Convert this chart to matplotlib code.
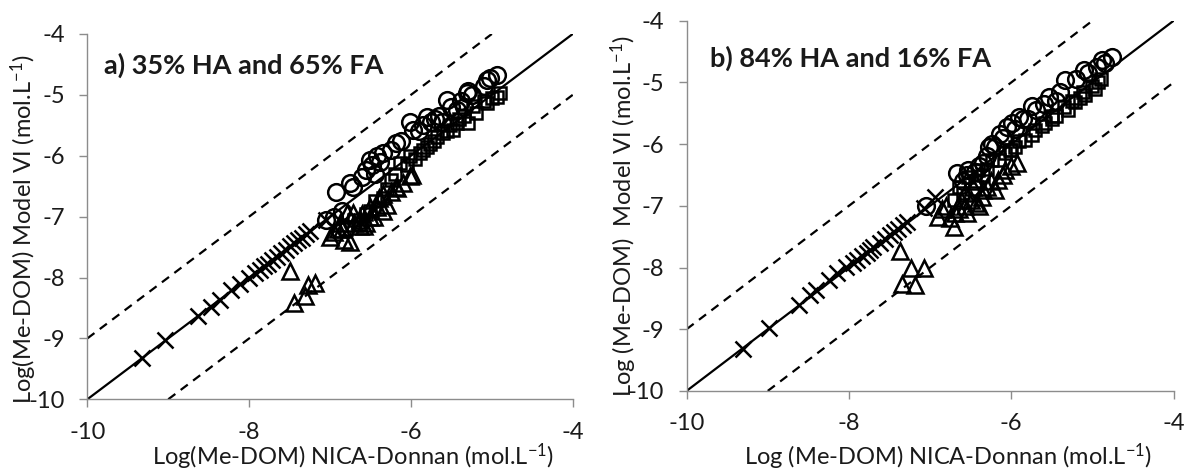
import matplotlib
matplotlib.use("Agg")
import matplotlib.pyplot as plt

plt.rcParams["font.family"] = ["Lato", "DejaVu Sans"]
plt.rcParams["mathtext.fontset"] = "custom"
plt.rcParams["mathtext.rm"] = "Lato"
plt.rcParams["mathtext.it"] = "Lato:italic"
plt.rcParams["mathtext.bf"] = "Lato:bold"
plt.rcParams["axes.unicode_minus"] = False

# panel a) 35% HA and 65% FA
cross_x_a = [-9.33, -9.04, -8.63, -8.47, -8.36, -8.22, -8.11, -8.0, -7.93, -7.87, -7.82, -7.77,
             -7.72, -7.66, -7.6, -7.55, -7.49, -7.44, -7.39, -7.35, -7.3, -7.25, -7.05]
cross_y_a = [-9.32, -9.02, -8.63, -8.48, -8.37, -8.21, -8.11, -8.0, -7.92, -7.87, -7.81, -7.77,
             -7.71, -7.66, -7.6, -7.54, -7.49, -7.44, -7.38, -7.35, -7.29, -7.24, -7.05]
tri_x_a = [-7.49, -7.27, -7.19, -7.31, -7.45, -7.0, -6.83, -6.75, -6.88, -6.79, -6.63, -6.5, -6.42,
           -6.30, -6.34, -6.18, -6.01, -6.63, -6.71, -6.46, -6.51, -6.17, -5.99, -6.55, -6.9,
           -6.95, -6.85, -6.7, -6.6, -6.4, -6.25, -6.1, -6.35, -6.58]
tri_y_a = [-7.90, -8.12, -8.09, -8.31, -8.42, -7.33, -7.38, -7.41, -7.11, -6.94, -7.05, -7.0, -6.84,
           -6.81, -6.62, -6.51, -6.34, -7.16, -6.94, -7.0, -6.84, -6.53, -6.32, -7.1, -7.2,
           -7.25, -7.2, -7.1, -6.95, -6.7, -6.6, -6.45, -6.9, -7.15]
circ_x_a = [-7.05, -6.92, -6.75, -6.71, -6.55, -6.51, -6.42, -6.34, -6.18, -6.01, -5.97, -5.80,
            -5.70, -5.56, -5.43, -5.31, -5.29, -5.06, -5.02, -4.94, -6.45, -5.9, -5.62, -5.35,
            -6.6, -6.48, -6.38, -6.25, -6.12, -5.85, -5.75, -5.65, -5.5, -5.38, -5.25, -5.1,
            -6.85, -6.95]
circ_y_a = [-7.05, -6.59, -6.45, -6.51, -6.23, -6.07, -6.01, -5.96, -5.79, -5.44, -5.58, -5.36,
            -5.40, -5.08, -5.25, -4.97, -4.93, -4.76, -4.72, -4.67, -6.3, -5.6, -5.45, -5.2,
            -6.35, -6.15, -6.1, -5.9, -5.75, -5.5, -5.45, -5.35, -5.2, -5.1, -5.0, -4.85,
            -6.9, -7.0]
sq_x_a = [-6.63, -6.5, -6.35, -6.25, -6.13, -6.01, -5.89, -5.76, -5.68, -5.60, -5.48, -5.43,
          -5.29, -5.23, -5.19, -5.06, -4.94, -4.90, -5.95, -5.55, -5.35, -6.05, -5.8,
          -6.8, -6.7, -6.55, -6.45, -6.3, -6.2, -5.85, -5.72, -5.52, -5.4, -5.1, -5.0]
sq_y_a = [-7.12, -6.9, -6.7, -6.4, -6.12, -6.01, -5.96, -5.80, -5.69, -5.63, -5.58, -5.47,
          -5.47, -5.19, -5.30, -5.14, -5.03, -4.97, -6.05, -5.6, -5.35, -6.15, -5.85,
          -7.2, -7.05, -6.95, -6.75, -6.55, -6.3, -5.9, -5.75, -5.5, -5.4, -5.1, -5.05]

# panel b) 84% HA and 16% FA
cross_x_b = [-9.3, -8.99, -8.62, -8.48, -8.40, -8.25, -8.15, -8.03, -7.95, -7.90, -7.84, -7.78,
             -7.74, -7.70, -7.62, -7.55, -7.49, -7.44, -7.39, -7.33, -7.28, -7.07, -6.94]
cross_y_b = [-9.32, -8.98, -8.61, -8.45, -8.36, -8.20, -8.09, -7.99, -7.93, -7.88, -7.82, -7.77,
             -7.72, -7.66, -7.6, -7.54, -7.47, -7.42, -7.38, -7.31, -7.27, -7.03, -6.85]
tri_x_b = [-7.37, -7.23, -7.08, -7.35, -7.19, -6.90, -6.71, -6.69, -6.57, -6.40, -6.36, -6.20,
           -6.16, -6.08, -5.93, -6.57, -6.47, -6.30, -6.55, -6.43, -6.8, -6.62,
           -6.75, -6.65, -6.5, -6.35, -6.25, -6.1, -6.0, -6.85, -6.45]
tri_y_b = [-7.74, -8.01, -8.01, -8.26, -8.28, -7.18, -7.34, -7.12, -7.01, -7.01, -6.85, -6.74,
           -6.58, -6.42, -6.31, -6.80, -6.70, -6.70, -7.12, -6.96, -7.0, -6.9,
           -7.2, -7.05, -6.9, -6.75, -6.6, -6.5, -6.35, -7.05, -6.6]
circ_x_b = [-7.05, -6.67, -6.53, -6.45, -6.28, -6.24, -6.14, -6.05, -5.99, -5.91, -5.75, -5.54,
            -5.34, -5.11, -5.05, -4.88, -4.84, -4.76, -6.6, -6.35, -5.8, -5.45,
            -6.55, -6.4, -6.2, -6.1, -5.95, -5.85, -5.7, -5.6, -5.4, -5.2, -4.95, -6.3]
circ_y_b = [-7.0, -6.47, -6.42, -6.45, -6.04, -5.99, -5.83, -5.72, -5.66, -5.56, -5.39, -5.23,
            -4.96, -4.80, -4.85, -4.64, -4.69, -4.58, -6.6, -6.3, -5.6, -5.3,
            -6.5, -6.35, -6.05, -5.9, -5.75, -5.6, -5.45, -5.35, -5.15, -4.95, -4.75, -6.2]
sq_x_b = [-6.65, -6.53, -6.41, -6.24, -6.08, -5.95, -5.83, -5.71, -5.58, -5.45, -5.30, -5.21,
          -5.09, -4.97, -4.93, -6.7, -6.35, -6.0, -5.5, -5.15,
          -6.6, -6.45, -6.3, -6.15, -6.02, -5.9, -5.75, -5.62, -5.5, -5.35, -5.25, -5.0, -4.9, -5.12]
sq_y_b = [-6.69, -6.53, -6.42, -6.26, -6.15, -6.04, -5.93, -5.77, -5.66, -5.55, -5.45, -5.31,
          -5.20, -5.10, -4.99, -6.9, -6.5, -6.1, -5.6, -5.25,
          -6.8, -6.6, -6.4, -6.25, -6.1, -5.95, -5.85, -5.7, -5.55, -5.4, -5.3, -5.05, -4.95, -5.15]

x_ticks = [-10, -8, -6, -4]
y_ticks = [-10, -9, -8, -7, -6, -5, -4]

GRAY = "#8c8c8c"
TEXT = "#1a1a1a"


def style_axes(ax):
    ax.set_xlim(-10, -4)
    ax.set_ylim(-10, -4)
    ax.set_xticks(x_ticks)
    ax.set_yticks(y_ticks)
    for side in ("top", "right"):
        ax.spines[side].set_visible(False)
    for side in ("left", "bottom"):
        ax.spines[side].set_color(GRAY)
        ax.spines[side].set_linewidth(1.0)
    ax.tick_params(axis="both", direction="out", length=6, width=1.0, color=GRAY,
                   labelsize=17, labelcolor=TEXT)
    ax.tick_params(axis="x", pad=10)
    ax.tick_params(axis="y", pad=10)


def draw_panel(ax, title, tx, ty, cx, cy, trx, try_, ox, oy, sx, sy):
    style_axes(ax)
    ax.plot([-10, -4], [-10, -4], color="black", lw=1.6, zorder=1)
    ax.plot([-10, -5], [-9, -4], color="black", lw=1.6, dashes=(4, 3), zorder=1)
    ax.plot([-9, -4], [-10, -5], color="black", lw=1.6, dashes=(4, 3), zorder=1)
    mk = dict(linestyle="none", markerfacecolor="none", markeredgecolor="black",
              markeredgewidth=1.8, zorder=3)
    ax.plot(cx, cy, marker="x", markersize=11, **mk)
    ax.plot(trx, try_, marker="^", markersize=11, **mk)
    ax.plot(sx, sy, marker="s", markersize=8.5, **mk)
    ax.plot(ox, oy, marker="o", markersize=12, **mk)
    ax.text(tx, ty, title, fontsize=19.5, fontweight="bold", color=TEXT, va="baseline", ha="left")


fig = plt.figure(figsize=(11.85, 4.72), dpi=100)
ax_a = fig.add_axes([0.0737, 0.154, 0.4096, 0.774])
ax_b = fig.add_axes([0.5794, 0.1718, 0.411, 0.7843])

draw_panel(ax_a, "a) 35% HA and 65% FA", -9.79, -4.66,
           cross_x_a, cross_y_a, tri_x_a, tri_y_a, circ_x_a, circ_y_a, sq_x_a, sq_y_a)
draw_panel(ax_b, "b) 84% HA and 16% FA", -9.71, -4.75,
           cross_x_b, cross_y_b, tri_x_b, tri_y_b, circ_x_b, circ_y_b, sq_x_b, sq_y_b)

lab = dict(fontsize=17, color=TEXT, ha="center", va="center")
fig.text(0.2975, 0.033, "Log(Me-DOM) NICA-Donnan (mol.L$^{-1}$)", **lab)
fig.text(0.0203, 0.515, "Log(Me-DOM) Model VI (mol.L$^{-1}$)", rotation=90, **lab)
fig.text(0.800, 0.033, "Log (Me-DOM) NICA-Donnan (mol.L$^{-1}$)", **lab)
fig.text(0.5266, 0.542, "Log (Me-DOM)  Model VI (mol.L$^{-1}$)", rotation=90, **lab)

fig.savefig("out.png", dpi=100)
